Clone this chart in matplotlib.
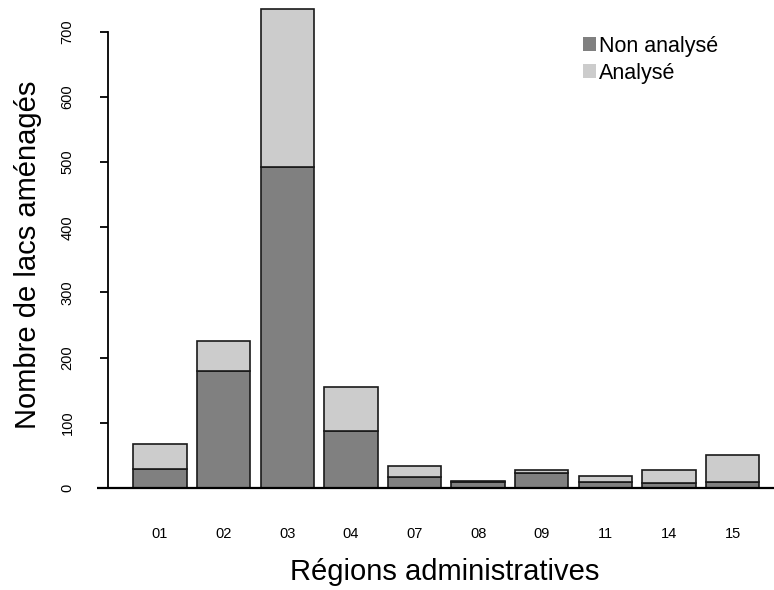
import matplotlib
matplotlib.use("Agg")
import matplotlib.pyplot as plt
from matplotlib.patches import Patch
import numpy as np

plt.rcParams['font.family'] = ['Liberation Sans', 'DejaVu Sans']

regions = ["01", "02", "03", "04", "07", "08", "09", "11", "14", "15"]
non_analyse = [29, 179, 492, 87, 17, 9, 23, 9, 8, 9]
analyse = [39, 47, 242, 68, 17, 2, 4, 9, 19, 42]
y_ticks = [0, 100, 200, 300, 400, 500, 600, 700]

dark = "#808080"
light = "#cccccc"
edge = "#1a1a1a"

fig = plt.figure(figsize=(7.74, 5.9), dpi=100)
ax = fig.add_axes([97 / 774, 1 - 497.8 / 590, 677 / 774, (497.8 - 5.5) / 590])

x = np.arange(len(regions))
w = 0.84
ax.bar(x, non_analyse, width=w, color=dark, edgecolor=edge, linewidth=1.2, label="Non analysé")
ax.bar(x, analyse, width=w, bottom=non_analyse, color=light, edgecolor=edge,
       linewidth=1.2, label="Analysé")

ax.set_xlim(-0.99, 9.65)
ax.set_ylim(-15, 740)
ax.axhline(0, color="black", linewidth=1.6, zorder=3)

for s in ["top", "right", "bottom"]:
    ax.spines[s].set_visible(False)
ax.spines["left"].set_position(("data", -0.82))
ax.spines["left"].set_bounds(0, 700)
ax.spines["left"].set_linewidth(1.3)

ax.set_yticks(y_ticks)
ax.set_yticklabels([str(v) for v in y_ticks], rotation=90, va="center", fontsize=10.5)
ax.tick_params(axis="y", length=6, width=1.3, pad=18)
ax.set_xticks(x)
ax.set_xticklabels(regions, fontsize=10.5)
ax.tick_params(axis="x", length=0, pad=21)

fig.text(28 / 774, 1 - 255 / 590, "Nombre de lacs aménagés", rotation=90,
         ha="center", va="center", fontsize=21)
fig.text(445 / 774, 1 - 572 / 590, "Régions administratives",
         ha="center", va="center", fontsize=21)

handles = [Patch(facecolor=dark, edgecolor="none"), Patch(facecolor=light, edgecolor="none")]
leg = fig.legend(handles, ["Non analysé", "Analysé"], loc="upper left",
                 bbox_to_anchor=(572 / 774, 1 - 25 / 590), frameon=False, fontsize=15.5,
                 handlelength=0.62, handleheight=0.62, handletextpad=0.12, labelspacing=0.28,
                 borderpad=0)

fig.savefig("out.png", dpi=100)
